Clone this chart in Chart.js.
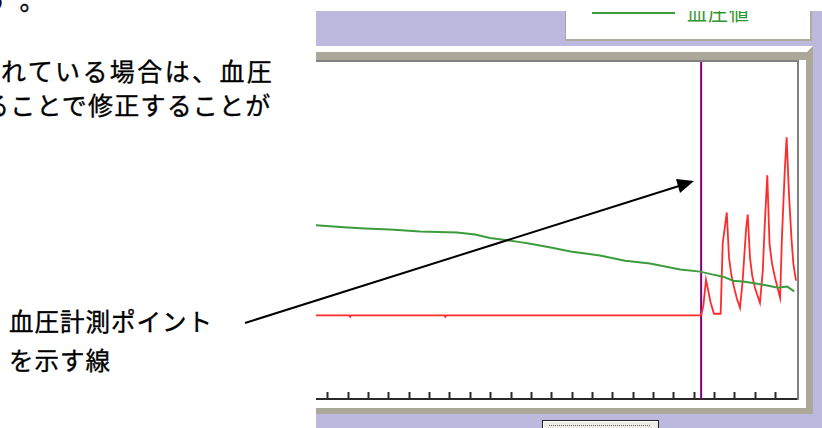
<!DOCTYPE html>
<html lang="ja"><head><meta charset="utf-8">
<script src="https://cdn.jsdelivr.net/npm/chart.js@4/dist/chart.umd.min.js"></script>
<style>
html,body{margin:0;padding:0;background:#fff;}
body{width:822px;height:428px;position:relative;overflow:hidden;font-family:"Noto Sans CJK JP","Noto Sans",sans-serif;color:#000;}
.abs{position:absolute;}
.txt{position:absolute;white-space:nowrap;-webkit-text-stroke:0.35px #000;}
</style></head><body>
<!-- lavender window background -->
<div class="abs" style="left:316px;top:11px;width:506px;height:417px;background:#bdb8de"></div>
<!-- legend box (top is cropped) -->
<div class="abs" style="left:565px;top:11px;width:244px;height:28px;background:#fff;border-left:1px solid #a4a4a4;border-bottom:2px solid #b0ad9f;border-right:2px solid #b0ad9f;overflow:hidden">
  <div class="abs" style="left:26px;top:1px;width:83px;height:2px;background:#3c9c3c"></div>
  <div class="abs" style="left:121px;top:-8px;font-size:20px;line-height:20px;letter-spacing:1px;color:#2e962e;white-space:nowrap">血圧値</div>
</div>
<!-- chart panel frame -->
<div class="abs" style="left:316px;top:46px;width:497px;height:368px;background:#aca899"></div>
<div class="abs" style="left:316px;top:46px;width:497px;height:6px;background:#fff;clip-path:polygon(0 0,100% 0,calc(100% - 6px) 100%,0 100%)"></div>
<div class="abs" style="left:316px;top:60px;width:490px;height:348px;background:#fff"></div>
<div class="abs" style="left:316px;top:60px;width:483px;height:2px;background:#808080"></div>
<div class="abs" style="left:797px;top:60px;width:2px;height:340px;background:#808080"></div>
<canvas id="c" width="481" height="339" style="position:absolute;left:316px;top:62px"></canvas>
<!-- bottom button (cropped) -->
<div class="abs" style="left:542px;top:420px;width:115px;height:12px;background:#ecebe6;border:1px solid #222;box-shadow:inset 1px 1px 0 #fff"></div>
<div class="abs" style="left:549px;top:425px;width:101px;height:0;border-top:1px dotted #666"></div>
<!-- explanatory text -->
<div class="txt" style="left:-15px;top:-13px;font-size:25px;line-height:25px;letter-spacing:12px">す。</div>
<div class="txt" style="left:1px;top:58px;font-size:25px;line-height:25px;letter-spacing:2.4px">れている場合は、血圧</div>
<div class="txt" style="left:-16px;top:92px;font-size:25px;line-height:25px;letter-spacing:1.2px">ることで修正することが</div>
<div class="txt" style="left:9px;top:309px;font-size:24.5px;line-height:24px;letter-spacing:1px">血圧計測ポイント</div>
<div class="txt" style="left:9px;top:348px;font-size:24.5px;line-height:24px;letter-spacing:1px">を示す線</div>
<!-- callout arrow -->
<svg class="abs" style="left:0;top:0;pointer-events:none" width="822" height="428">
  <line x1="245" y1="323" x2="679" y2="186" stroke="#000" stroke-width="2"/>
  <polygon points="694,181 680,193 676,179" fill="#000"/>
</svg>
<script>
// x positions are in tick units (one tick per unit)
const xTicks = [0,1,2,3,4,5,6,7,8,9,10,11,12,13,14,15,16,17,18,19,20,21,22];
const xRange = [-0.58, 23.05];
const yRange = [0, 200];

// blood pressure value (green)
const bpX = [-0.58,0.60,1.83,3.06,4.53,6.35,7.24,7.97,8.73,9.45,9.95,10.95,11.93,13.37,14.60,15.83,17.31,18.29,18.93,19.42,19.91,20.50,21.09,21.58,22.12,22.57,22.91];
const bpY = [103.1,102.1,101.2,100.6,99.4,98.8,97.6,95.5,94.3,93.1,92.1,89.9,87.5,85.1,82.1,80.4,76.8,75.6,73.8,72.6,70.2,69.6,68.4,67.3,66.1,66.7,63.9];

// pulse wave (red)
const waveX = [-0.58,1.06,1.10,1.14,5.73,5.77,5.81,18.34,18.45,18.58,18.69,18.81,18.97,19.30,19.40,19.60,19.71,19.82,19.96,20.10,20.25,20.38,20.55,20.63,20.74,20.85,20.98,21.23,21.37,21.46,21.59,21.70,21.82,21.97,22.22,22.31,22.45,22.54,22.66,22.78,22.87,23.00];
const waveY = [49.6,49.6,48.8,49.6,49.6,48.8,49.6,49.6,55.4,70.8,64.3,57.1,50.6,50.6,92.3,110.7,83.9,74.0,66.1,59.5,54.2,70.2,101.2,109.5,83.9,73.2,66.2,57.1,76.2,101.8,132.7,92.0,80.5,72.0,60.1,95.8,135.7,155.3,120.5,95.0,80.4,70.2];

// measurement point (purple vertical line)
const markerX = [18.34];

const pts = (xs, ys) => xs.map((x, i) => ({x: x, y: ys[i]}));

new Chart(document.getElementById('c').getContext('2d'), {
  type: 'line',
  data: {
    datasets: [
      {label: '血圧値', data: pts(bpX, bpY), borderColor: '#3c9c3c', borderWidth: 2, pointRadius: 0, tension: 0},
      {label: '脈波', data: pts(waveX, waveY), borderColor: '#ff2b2b', borderWidth: 1.8, pointRadius: 0, tension: 0},
      {label: '血圧計測ポイント', data: markerX.flatMap(x => [{x: x, y: yRange[0]}, {x: x, y: yRange[1]}]), borderColor: '#800080', borderWidth: 2, pointRadius: 0, tension: 0}
    ]
  },
  options: {
    responsive: false,
    animation: false,
    devicePixelRatio: 1,
    layout: {padding: 0},
    plugins: {legend: {display: false}, tooltip: {enabled: false}},
    scales: {
      x: {
        type: 'linear', position: 'bottom', min: xRange[0], max: xRange[1],
        afterBuildTicks: s => { s.ticks = xTicks.map(v => ({value: v})); },
        afterFit: s => { s.height = 2; },
        ticks: {display: false},
        grid: {display: true, drawOnChartArea: false, drawTicks: true, tickLength: -7, tickWidth: 2, tickColor: '#2a2a2a', color: '#2a2a2a'},
        border: {display: true, color: '#2a2a2a', width: 2}
      },
      y: {display: false, min: yRange[0], max: yRange[1]}
    }
  }
});
</script>
</body></html>
